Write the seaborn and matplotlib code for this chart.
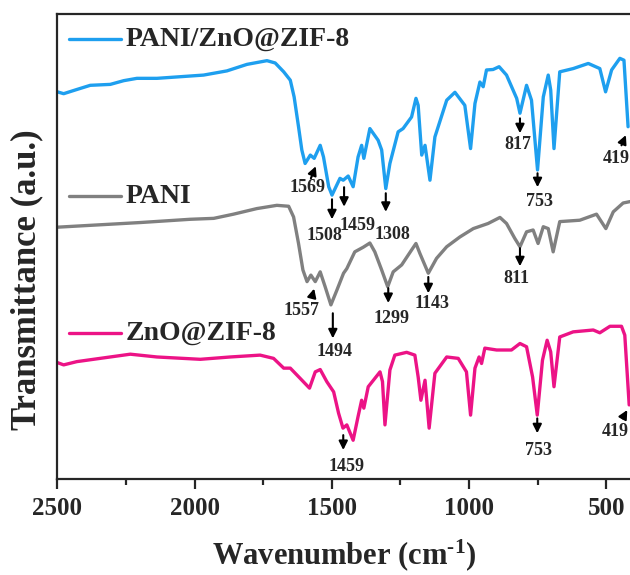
import matplotlib
matplotlib.use("Agg")
import matplotlib.pyplot as plt
import seaborn as sns
import pandas as pd

sns.set_style("ticks")
plt.rcParams['font.family'] = ['Liberation Serif', 'DejaVu Serif']
plt.rcParams['font.weight'] = 'bold'
plt.rcParams['mathtext.fontset'] = 'custom'
plt.rcParams['mathtext.rm'] = 'Liberation Serif:bold'
plt.rcParams['mathtext.bf'] = 'Liberation Serif:bold'
plt.rcParams['mathtext.default'] = 'bf'

# spectra (transmittance in a.u., curves already offset)
wn_hybrid = [2500, 2477, 2429, 2380, 2307, 2258, 2210, 2137, 2064, 1967, 1882, 1809,
             1736, 1706, 1675, 1651, 1637, 1621, 1609, 1597, 1578, 1564, 1542, 1530,
             1511, 1499, 1470, 1458, 1440, 1422, 1404, 1391, 1383, 1361, 1331, 1318,
             1303, 1288, 1258, 1240, 1209, 1193, 1185, 1172, 1160, 1142, 1124, 1081,
             1051, 1015, 994, 978, 960, 948, 936, 912, 890, 863, 826, 814, 790, 772,
             750, 729, 711, 702, 690, 669, 620, 565, 523, 502, 480, 450, 435, 420]
t_hybrid = [83.3, 82.9, 83.8, 84.7, 84.9, 85.7, 86.2, 86.2, 86.5, 86.9, 87.8, 89.2,
            90.0, 89.5, 87.6, 85.8, 82.2, 75.8, 70.8, 67.9, 69.7, 69.0, 71.8, 69.3,
            62.9, 61.1, 64.7, 64.3, 65.2, 62.9, 69.3, 71.8, 69.0, 75.4, 72.9, 70.8,
            62.5, 67.9, 74.7, 75.4, 77.9, 81.9, 80.4, 69.7, 71.8, 64.3, 73.6, 81.5,
            83.2, 80.4, 71.1, 80.8, 85.4, 84.4, 88.0, 88.1, 88.7, 86.9, 81.9, 78.7,
            84.7, 81.5, 66.5, 82.2, 86.9, 83.7, 71.1, 87.6, 88.3, 89.4, 88.3, 83.3,
            88.0, 90.5, 90.1, 75.8]

wn_pani = [2500, 2380, 2198, 2016, 1930, 1858, 1773, 1700, 1657, 1639, 1621, 1605,
           1590, 1576, 1560, 1542, 1524, 1503, 1481, 1457, 1445, 1416, 1385, 1361,
           1343, 1318, 1296, 1276, 1245, 1209, 1193, 1179, 1148, 1118, 1081, 1033,
           984, 930, 887, 863, 833, 814, 790, 766, 748, 729, 711, 693, 669, 596, 535,
           501, 474, 438, 413]
t_pani = [54.2, 54.6, 55.2, 55.9, 56.1, 57.0, 58.2, 58.9, 58.7, 56.4, 50.7, 45.0,
          42.5, 43.9, 42.5, 44.6, 41.4, 37.5, 40.7, 44.3, 45.3, 48.9, 49.9, 50.8,
          48.9, 45.0, 41.4, 44.6, 46.1, 49.3, 50.7, 48.6, 44.3, 47.5, 50.0, 52.1,
          53.9, 55.0, 56.3, 55.0, 51.8, 50.0, 53.2, 53.6, 50.7, 54.3, 53.9, 48.9,
          55.4, 55.7, 57.0, 53.9, 57.5, 59.4, 59.7]

wn_zif = [2500, 2477, 2429, 2344, 2234, 2137, 1979, 1870, 1761, 1712, 1675, 1651,
          1615, 1581, 1560, 1542, 1518, 1493, 1475, 1459, 1445, 1422, 1404, 1391,
          1383, 1367, 1324, 1315, 1306, 1288, 1270, 1227, 1197, 1185, 1175, 1160,
          1145, 1124, 1081, 1039, 1009, 994, 978, 963, 954, 942, 899, 845, 814, 790,
          768, 751, 732, 715, 702, 690, 669, 620, 547, 523, 486, 444, 432, 416]
t_zif = [25.1, 24.6, 25.3, 26.0, 26.9, 26.3, 25.8, 26.3, 26.7, 26.0, 23.9, 23.9,
         21.7, 19.6, 23.1, 23.6, 21.0, 18.8, 14.2, 11.0, 11.7, 8.4, 13.5, 17.0,
         15.3, 19.9, 23.1, 21.0, 11.7, 23.5, 26.7, 27.3, 26.7, 22.0, 17.0, 21.3,
         11.0, 22.8, 26.3, 26.0, 23.1, 13.8, 23.9, 26.3, 24.9, 28.2, 27.8, 27.8,
         29.2, 28.5, 22.0, 13.8, 25.6, 29.9, 27.4, 19.9, 30.6, 31.7, 32.1, 31.5,
         32.9, 32.9, 31.0, 16.0]

names = ["PANI/ZnO@ZIF-8", "PANI", "ZnO@ZIF-8"]
colors = ["#1E9FEF", "#808080", "#EC1386"]

# peak labels: text, arrow head, arrow tail, text anchor (wavenumber, a.u.)
peaks = [
    ("1569", (1558, 67.3), (1576, 64.7), (1587, 64.6)),
    ("1508", (1499, 55.9), (1499, 60.2), (1525, 54.2)),
    ("1459", (1455, 58.6), (1455, 62.8), (1405, 56.4)),
    ("1308", (1303, 57.5), (1303, 61.5), (1277, 54.4)),
    ("817", (814, 74.4), (814, 77.6), (820, 73.8)),
    ("753", (750, 62.8), (750, 65.8), (744, 61.5)),
    ("419", (428, 74.0), (444, 71.8), (462, 70.8)),
    ("1557", (1564, 41.0), (1572, 39.2), (1609, 38.1)),
    ("1494", (1496, 30.3), (1496, 35.7), (1490, 29.3)),
    ("1299", (1294, 37.9), (1294, 41.1), (1282, 36.4)),
    ("1143", (1148, 40.0), (1148, 43.5), (1136, 39.6)),
    ("811", (814, 45.8), (814, 49.7), (826, 45.0)),
    ("1459", (1458, 6.3), (1458, 9.5), (1445, 4.6)),
    ("753", (751, 9.9), (751, 13.1), (748, 8.1)),
    ("419", (423, 14.9), (440, 13.1), (468, 12.1)),
]

fig = plt.figure(figsize=(6.3, 5.75), dpi=100)
ax = fig.add_axes([0.091, 0.1664, 0.909, 0.809])

frames = [pd.DataFrame({"wn": wn_hybrid, "T": t_hybrid}),
          pd.DataFrame({"wn": wn_pani, "T": t_pani}),
          pd.DataFrame({"wn": wn_zif, "T": t_zif})]
for df, c in zip(frames, colors):
    sns.lineplot(data=df, x="wn", y="T", color=c, lw=2.4, estimator=None,
                 sort=False, ax=ax)

# in-plot legend entries
legend_rows = [(94.6, names[0], colors[0]), (60.9, names[1], colors[1]),
               (31.4, names[2], colors[2])]
for yy, name, c in legend_rows:
    ax.plot([2458, 2268], [yy, yy], color=c, lw=2.4)
    ax.text(2250, yy, name, fontsize=20, fontweight='bold', va='center', ha='left')

for lab, head, tail, txt in peaks:
    ax.annotate("", xy=head, xytext=tail,
                arrowprops=dict(arrowstyle='-|>', color='black', lw=1.5,
                                mutation_scale=13, shrinkA=0, shrinkB=0))
    ax.text(txt[0], txt[1], lab, fontsize=13, fontweight='bold', ha='center', va='top')

ax.set_xlim(2500, 413)
ax.set_ylim(0, 100)
ax.set_xticks([2500, 2000, 1500, 1000, 500])
ax.set_xticks([2250, 1750, 1250, 750], minor=True)
ax.set_yticks([])
ax.tick_params(axis='x', which='major', length=7, width=1.6, labelsize=18, pad=6)
ax.tick_params(axis='x', which='minor', length=4, width=1.6)
for lbl in ax.get_xticklabels():
    lbl.set_fontweight('bold')
for s in ['left', 'top', 'bottom']:
    ax.spines[s].set_linewidth(1.6)
ax.spines['right'].set_visible(False)

ax.set_xlabel("Wavenumber (cm$^{\\text{-1}}$)", fontsize=22, fontweight='bold', labelpad=12)
ax.set_ylabel("Transmittance (a.u.)", fontsize=25, fontweight='bold')
ax.yaxis.set_label_coords(-0.025, 0.43)

fig.savefig("out.png", dpi=100)
